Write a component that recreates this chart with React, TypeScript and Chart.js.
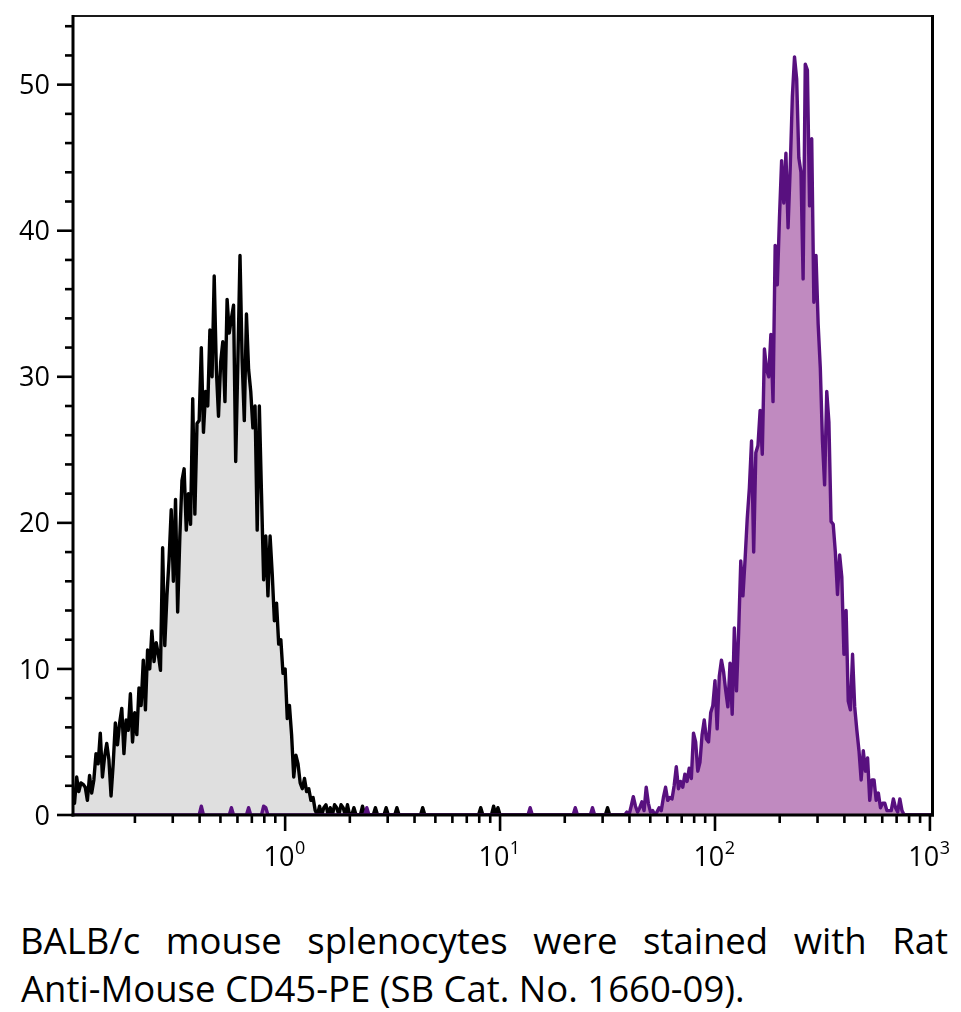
import React, { useEffect, useRef } from 'react';
import { Chart, registerables } from 'chart.js';

Chart.register(...registerables);

// ---- axis description ----
const BINS_PER_DECADE = 100;
const X_MIN_EXP = -0.987;
const X_MAX_EXP = 3.012;
const Y_MIN = 0;
const Y_MAX = 54.7;
const Y_MAJOR_TICKS = [0, 10, 20, 30, 40, 50];
const Y_MINOR_TICKS = [2, 4, 6, 8, 12, 14, 16, 18, 22, 24, 26, 28, 32, 34, 36, 38, 42, 44, 46, 48, 52, 54];
const X_MAJOR_EXPONENTS = [0, 1, 2, 3];
const X_MINOR_MULTIPLES = [2, 3, 4, 5, 6, 7, 8, 9];
const X_MINOR_DECADES = [0.1, 1, 10, 100];

// ---- histogram data (bin k sits at 10^(k/100)) ----
const FIRST_BIN = -99;
const LAST_BIN = 301;

const UNSTAINED_START_BIN = -99;
const UNSTAINED_COUNTS = [
  1.8, 0.8, 2.6, 1.6, 2.2, 2.1, 1.9, 1.0, 2.7, 1.5,
  2.4, 4.2, 3.5, 5.6, 2.6, 4.0, 4.9, 3.8, 1.3, 3.5,
  6.3, 4.8, 6.3, 7.3, 4.2, 6.5, 5.8, 8.3, 5.0, 7.0,
  5.5, 8.7, 7.5, 10.6, 7.2, 11.3, 10.0, 12.6, 10.5, 11.8,
  11.0, 9.9, 18.3, 11.6, 15.0, 17.5, 20.9, 16.0, 21.6, 13.9,
  19.0, 22.9, 23.7, 19.5, 22.0, 19.9, 28.5, 20.6, 26.8, 27.0,
  32.0, 26.2, 29.0, 28.0, 33.2, 30.0, 36.9, 30.5, 27.3, 31.0,
  32.4, 28.3, 35.3, 33.0, 34.0, 34.9, 24.2, 31.0, 38.3, 31.1,
  27.0, 34.3, 30.5, 29.0, 26.5, 28.0, 19.5, 28.0, 22.0, 16.1,
  19.1, 15.0, 19.1, 16.5, 13.3, 14.5, 11.7, 12.0, 9.7, 10.0,
  6.6, 7.5, 5.5, 2.6, 4.1, 3.5, 2.2, 1.8, 2.5, 1.6,
  1.8, 1.0, 1.2, 0.3, 0.0,
];
const UNSTAINED_SPARSE_BINS = [16, 18, 19, 21, 23, 24, 26, 27, 29, 32, 36, 42, 47, 52, 64, 91, 97, 99, 150];
const UNSTAINED_SPARSE_COUNTS = [0.6, 0.5, 0.7, 0.5, 0.7, 0.5, 0.7, 0.5, 0.7, 0.5, 0.6, 0.5, 0.5, 0.5, 0.5, 0.5, 0.6, 0.5, 0.5];

const STAINED_START_BIN = 158;
const STAINED_COUNTS = [
  0.0, 0.2, 0.0, 0.6, 1.25, 0.6, 0.2, 0.5, 0.9, 0.3,
  1.9, 0.8, 0.2, 0.3, 0.0, 0.2, 0.5, 0.3, 1.2, 1.9,
  1.0, 1.2, 1.1, 2.0, 3.3, 1.8, 2.3, 1.9, 2.8, 2.3,
  3.2, 2.5, 5.6, 5.0, 3.0, 3.6, 5.5, 6.5, 5.2, 5.0,
  7.0, 7.5, 9.2, 5.9, 9.5, 10.6, 9.8, 8.5, 7.4, 10.4,
  6.9, 12.8, 8.5, 12.5, 17.4, 15.0, 17.5, 20.3, 22.4, 25.6,
  18.0, 24.8, 25.3, 27.7, 24.7, 31.9, 30.5, 30.0, 32.9, 28.3,
  39.0, 36.3, 40.9, 44.8, 41.9, 45.3, 40.2, 44.3, 49.2, 51.9,
  50.4, 45.0, 44.0, 36.7, 51.4, 51.0, 41.7, 46.3, 35.1, 38.3,
  33.6, 30.6, 25.6, 22.6, 29.0, 26.9, 20.1, 19.9, 18.0, 15.1,
  17.8, 16.3, 11.0, 14.0, 7.8, 7.2, 11.0, 7.4, 5.8, 4.4,
  2.4, 4.4, 3.0, 3.9, 1.0, 2.4, 2.4, 1.0, 1.5, 0.5,
  0.8, 0.8, 0.3, 0.3, 0.3, 1.1, 0.5, 0.2, 1.1, 0.3,
  0.0,
];
const STAINED_SPARSE_BINS = [-39, -25, -17, -10, -9, 38, 114, 135, 143];
const STAINED_SPARSE_COUNTS = [0.6, 0.5, 0.5, 0.6, 0.5, 0.5, 0.5, 0.5, 0.5];

const CAPTION_LINE_1 = 'BALB/c mouse splenocytes were stained with Rat';
const CAPTION_LINE_2 = 'Anti-Mouse CD45-PE (SB Cat. No. 1660-09).';

// ---- layout / style ----
const W = 961;
const CANVAS_H = 890;
const PLOT_LEFT = 73;
const PLOT_TOP = 16;
const PLOT_RIGHT = 932.5;
const PLOT_BOTTOM = 815;
const FONT = '"Open Sans", "Noto Sans", sans-serif';

function buildSeries(start: number, counts: number[], sparseBins: number[], sparseCounts: number[]) {
  const m = new Map<number, number>();
  counts.forEach((c, i) => m.set(start + i, c));
  sparseBins.forEach((b, i) => m.set(b, sparseCounts[i]));
  const pts: { x: number; y: number }[] = [];
  for (let b = FIRST_BIN; b <= LAST_BIN; b++) {
    pts.push({ x: Math.pow(10, b / BINS_PER_DECADE), y: m.has(b) ? (m.get(b) as number) : 0 });
  }
  return pts;
}

const axesPlugin = {
  id: 'histAxes',
  afterDatasetsDraw(chart: any) {
    const { ctx, chartArea: a, scales } = chart;
    const xs = scales.x;
    const ys = scales.y;
    const seg = (x1: number, y1: number, x2: number, y2: number) => {
      ctx.beginPath();
      ctx.moveTo(x1, y1);
      ctx.lineTo(x2, y2);
      ctx.stroke();
    };
    ctx.save();
    ctx.lineCap = 'butt';
    // frame
    ctx.strokeStyle = '#1a1a1a';
    ctx.lineWidth = 2;
    seg(a.left, a.top, a.right + 1.5, a.top);
    ctx.strokeStyle = '#000';
    ctx.lineWidth = 3;
    seg(a.right, a.top - 1, a.right, a.bottom + 1.5);
    seg(a.left, a.top - 1, a.left, a.bottom + 1.5);
    seg(a.left - 1.5, a.bottom, a.right + 1.5, a.bottom);

    // y ticks
    ctx.lineWidth = 2.6;
    Y_MAJOR_TICKS.forEach((v) => {
      const py = ys.getPixelForValue(v);
      seg(a.left - 16, py, a.left, py);
    });
    Y_MINOR_TICKS.forEach((v) => {
      const py = ys.getPixelForValue(v);
      seg(a.left - 8, py, a.left, py);
    });
    // x ticks
    X_MAJOR_EXPONENTS.forEach((e) => {
      const px = xs.getPixelForValue(Math.pow(10, e));
      seg(px, a.bottom, px, a.bottom + 16);
    });
    X_MINOR_DECADES.forEach((d) => {
      X_MINOR_MULTIPLES.forEach((m) => {
        const v = d * m;
        if (v < xs.min || v > xs.max) return;
        const px = xs.getPixelForValue(v);
        seg(px, a.bottom, px, a.bottom + 8);
      });
    });

    // labels
    ctx.fillStyle = '#000';
    ctx.font = `27px ${FONT}`;
    ctx.textAlign = 'right';
    ctx.textBaseline = 'alphabetic';
    Y_MAJOR_TICKS.forEach((v) => {
      const py = ys.getPixelForValue(v);
      ctx.fillText(String(v), 50, py + 9.6);
    });
    ctx.textAlign = 'left';
    X_MAJOR_EXPONENTS.forEach((e) => {
      const px = xs.getPixelForValue(Math.pow(10, e));
      ctx.font = `27px ${FONT}`;
      const w1 = ctx.measureText('10').width;
      ctx.font = `18px ${FONT}`;
      const sup = String(e);
      const w2 = ctx.measureText(sup).width;
      const x0 = px - (w1 + w2) / 2 - 1;
      ctx.font = `27px ${FONT}`;
      ctx.fillText('10', x0, 866);
      ctx.font = `18px ${FONT}`;
      ctx.fillText(sup, x0 + w1 + 0.5, 854);
    });
    ctx.restore();
  },
};

export default function App() {
  const ref = useRef<HTMLCanvasElement | null>(null);

  useEffect(() => {
    if (!ref.current) return;
    const stained = buildSeries(STAINED_START_BIN, STAINED_COUNTS, STAINED_SPARSE_BINS, STAINED_SPARSE_COUNTS);
    const unstained = buildSeries(UNSTAINED_START_BIN, UNSTAINED_COUNTS, UNSTAINED_SPARSE_BINS, UNSTAINED_SPARSE_COUNTS);
    const chart = new Chart(ref.current, {
      type: 'line',
      data: {
        datasets: [
          {
            label: 'Rat Anti-Mouse CD45-PE',
            data: stained,
            borderColor: '#58107f',
            backgroundColor: '#c08ac0',
            borderWidth: 3.4,
            fill: 'origin',
            pointRadius: 0,
            tension: 0,
            borderJoinStyle: 'round',
          },
          {
            label: 'Unstained',
            data: unstained,
            borderColor: '#000000',
            backgroundColor: '#dfdfdf',
            borderWidth: 3.4,
            fill: 'origin',
            pointRadius: 0,
            tension: 0,
            borderJoinStyle: 'round',
          },
        ],
      },
      options: {
        responsive: false,
        animation: false,
        events: [],
        layout: {
          padding: {
            left: PLOT_LEFT,
            top: PLOT_TOP,
            right: W - PLOT_RIGHT,
            bottom: CANVAS_H - PLOT_BOTTOM,
          },
        },
        plugins: { legend: { display: false }, tooltip: { enabled: false } },
        scales: {
          x: {
            type: 'logarithmic',
            min: Math.pow(10, X_MIN_EXP),
            max: Math.pow(10, X_MAX_EXP),
            display: false,
          },
          y: { type: 'linear', min: Y_MIN, max: Y_MAX, display: false },
        },
      },
      plugins: [axesPlugin],
    } as any);
    return () => chart.destroy();
  }, []);

  const lineStyle: React.CSSProperties = {
    position: 'absolute',
    left: 20,
    width: 928,
    fontFamily: FONT,
    fontSize: '36.5px',
    lineHeight: '48px',
    color: '#000',
    margin: 0,
  };

  return (
    <div style={{ position: 'absolute', left: 0, top: 0, width: W, height: 1012, background: '#fff', overflow: 'hidden' }}>
      <canvas ref={ref} width={W} height={CANVAS_H} style={{ display: 'block', width: W, height: CANVAS_H }} />
      <div style={{ ...lineStyle, top: 916, textAlign: 'justify', textAlignLast: 'justify' }}>{CAPTION_LINE_1}</div>
      <div style={{ ...lineStyle, top: 964, left: 21, textAlign: 'left' }}>{CAPTION_LINE_2}</div>
    </div>
  );
}
